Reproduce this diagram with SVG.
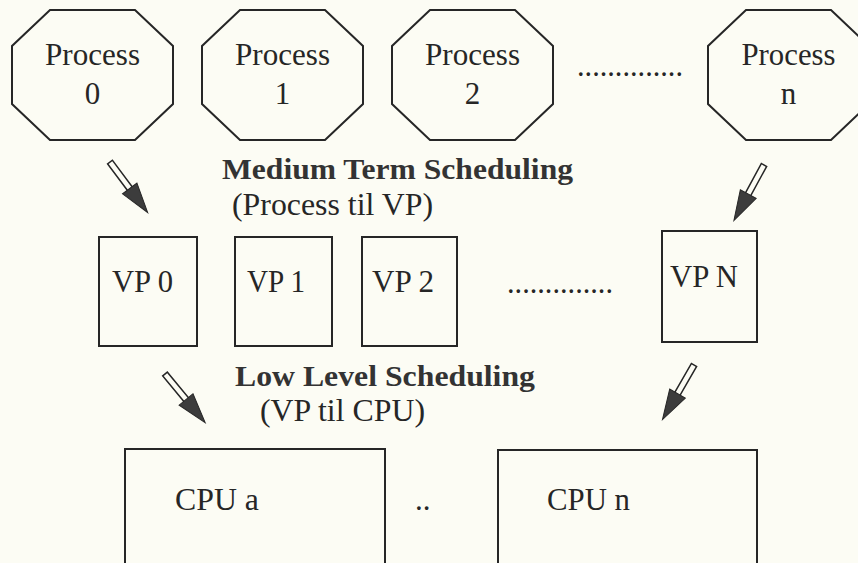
<svg xmlns="http://www.w3.org/2000/svg" xmlns:xlink="http://www.w3.org/1999/xlink" width="858" height="563" viewBox="0 0 858 563">
<style>
.shape{fill:none;stroke:#262626;stroke-width:2}
.t{font-family:"Liberation Serif","Times New Roman",serif;font-size:31px;fill:#262626}
.b{font-family:"Liberation Serif","Times New Roman",serif;font-size:29px;font-weight:bold;fill:#333}
</style>
<defs>
<polygon id="oct" points="38,0 123,0 161,36 161,94 123,130 38,130 0,94 0,36"/>
<g id="arrow">
<rect x="0" y="-3" width="36" height="6" fill="#fcfcf4" stroke="#262626" stroke-width="1.5"/>
<polygon points="33,-9 63,0 33,9" fill="#3c3c3c" stroke="#262626" stroke-width="1"/>
</g>
</defs>
<rect width="858" height="563" fill="#fcfcf4"/>
<g id="process0">
<use href="#oct" class="shape" x="12" y="10"/>
<text class="t" x="92.5" y="65" text-anchor="middle" textLength="95" lengthAdjust="spacingAndGlyphs">Process</text>
<text class="t" x="92.5" y="104" text-anchor="middle">0</text>
</g>
<g id="process1">
<use href="#oct" class="shape" x="202" y="10"/>
<text class="t" x="282.5" y="65" text-anchor="middle" textLength="95" lengthAdjust="spacingAndGlyphs">Process</text>
<text class="t" x="282.5" y="104" text-anchor="middle">1</text>
</g>
<g id="process2">
<use href="#oct" class="shape" x="392" y="10"/>
<text class="t" x="472.5" y="65" text-anchor="middle" textLength="95" lengthAdjust="spacingAndGlyphs">Process</text>
<text class="t" x="472.5" y="104" text-anchor="middle">2</text>
</g>
<text class="t" x="577" y="76" textLength="106" lengthAdjust="spacingAndGlyphs">..............</text>
<g id="processn">
<use href="#oct" class="shape" x="708" y="10"/>
<text class="t" x="788.5" y="65" text-anchor="middle" textLength="94" lengthAdjust="spacingAndGlyphs">Process</text>
<text class="t" x="788.5" y="104" text-anchor="middle">n</text>
</g>
<g id="medium-label">
<text class="b" x="222" y="179" textLength="351" lengthAdjust="spacingAndGlyphs">Medium Term Scheduling</text>
<text class="t" x="232" y="215" textLength="201" lengthAdjust="spacingAndGlyphs">(Process til VP)</text>
</g>
<g id="vp0">
<rect class="shape" x="99" y="237" width="98" height="109"/>
<text class="t" x="112" y="292" textLength="61" lengthAdjust="spacingAndGlyphs">VP 0</text>
</g>
<g id="vp1">
<rect class="shape" x="235" y="237" width="97" height="109"/>
<text class="t" x="247" y="292" textLength="58" lengthAdjust="spacingAndGlyphs">VP 1</text>
</g>
<g id="vp2">
<rect class="shape" x="362" y="237" width="95" height="109"/>
<text class="t" x="372" y="292" textLength="62" lengthAdjust="spacingAndGlyphs">VP 2</text>
</g>
<text class="t" x="507" y="293" textLength="106" lengthAdjust="spacingAndGlyphs">..............</text>
<g id="vpN">
<rect class="shape" x="662" y="231" width="95" height="111"/>
<text class="t" x="670" y="287" textLength="68" lengthAdjust="spacingAndGlyphs">VP N</text>
</g>
<g id="low-label">
<text class="b" x="235" y="386" textLength="300" lengthAdjust="spacingAndGlyphs">Low Level Scheduling</text>
<text class="t" x="260" y="421" textLength="165" lengthAdjust="spacingAndGlyphs">(VP til CPU)</text>
</g>
<g id="cpua">
<path class="shape" d="M125,570 V449 H385 V570"/>
<text class="t" x="175" y="510" textLength="84" lengthAdjust="spacingAndGlyphs">CPU a</text>
</g>
<text class="t" x="415" y="510">..</text>
<g id="cpun">
<path class="shape" d="M498,570 V450 H757 V570"/>
<text class="t" x="547" y="510" textLength="83" lengthAdjust="spacingAndGlyphs">CPU n</text>
</g>
<g id="connectors">
<use href="#arrow" transform="translate(110,162) rotate(53.3)"/>
<use href="#arrow" transform="translate(764,165) rotate(118.5)"/>
<use href="#arrow" transform="translate(165,374) rotate(50.4)"/>
<use href="#arrow" transform="translate(694,365) rotate(120)"/>
</g>
</svg>
